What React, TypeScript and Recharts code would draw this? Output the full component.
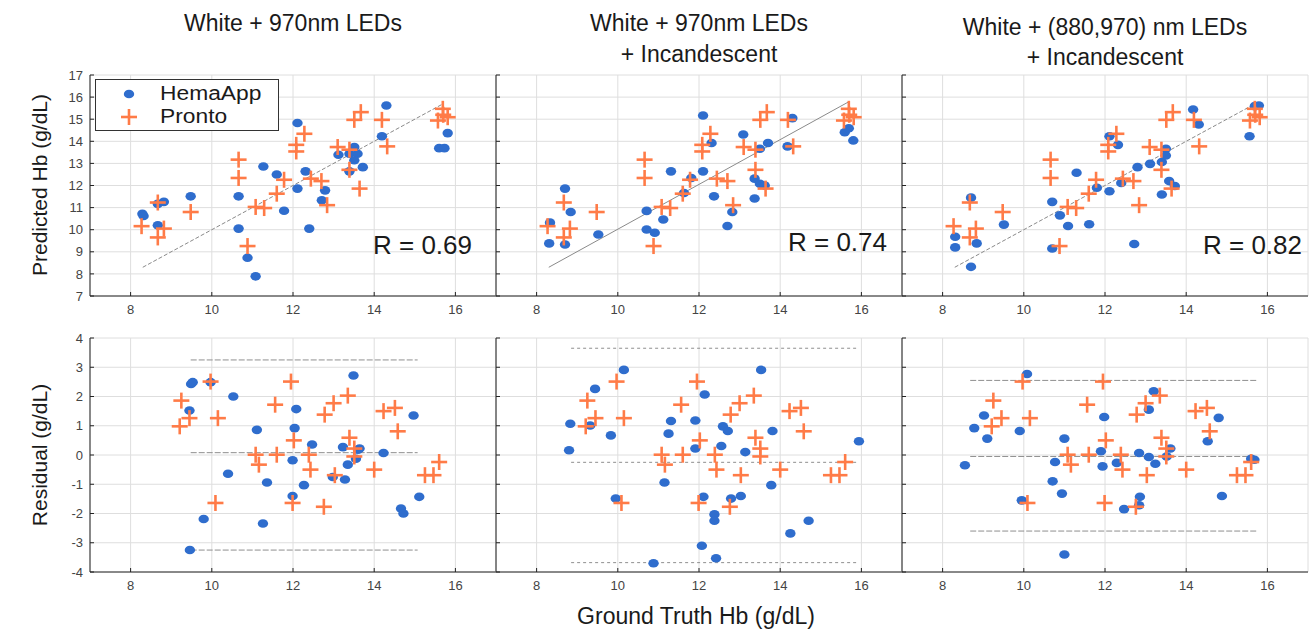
import React from 'react';
import { ScatterChart, Scatter, XAxis, YAxis, CartesianGrid, ReferenceLine } from 'recharts';

const FONT = '"Liberation Sans", Arial, Helvetica, sans-serif';
const BLUE = '#2f6dcd';
const ORANGE = '#ff7b47';

type P = { x: number; y: number };
const pts = (a: number[][]): P[] => a.map(([x, y]) => ({ x, y }));

// ---------- Titles / labels ----------
const panelTitles: string[][] = [
  ['White + 970nm LEDs'],
  ['White + 970nm LEDs', '+ Incandescent'],
  ['White + (880,970) nm LEDs', '+ Incandescent'],
];
const rValues = ['R = 0.69', 'R = 0.74', 'R = 0.82'];
const seriesNames = ['HemaApp', 'Pronto'];
const xTicks = [8, 10, 12, 14, 16];
const xDomain: [number, number] = [7, 17];
const topYTicks = [7, 8, 9, 10, 11, 12, 13, 14, 15, 16, 17];
const topYDomain: [number, number] = [7, 17];
const botYTicks = [-4, -3, -2, -1, 0, 1, 2, 3, 4];
const botYDomain: [number, number] = [-4, 4];

// ---------- Top row: predicted vs ground truth ----------
const prontoTop = pts([
  [8.27, 10.16], [8.67, 11.23], [8.67, 9.65], [8.82, 10.05], [9.48, 10.8], [10.66, 13.17], [10.66, 12.34],
  [10.88, 9.26], [11.08, 11.03], [11.29, 10.98], [11.6, 11.63], [11.78, 12.26], [12.08, 13.84], [12.08, 13.54],
  [12.28, 14.34], [12.44, 12.31], [12.7, 12.2], [12.84, 11.11], [13.1, 13.74], [13.39, 13.62], [13.39, 12.71],
  [13.51, 14.97], [13.67, 15.32], [13.64, 11.86], [14.19, 14.97], [14.32, 13.77], [15.57, 14.94], [15.69, 15.47],
  [15.81, 15.09], [15.7, 15.2],
]);

const hemaTop1 = pts([
  [8.29, 10.72], [8.32, 10.62], [8.67, 11.17], [8.82, 11.26], [8.67, 10.2], [9.48, 11.51], [10.66, 11.51],
  [10.66, 10.05], [10.88, 8.73], [11.08, 7.89], [11.27, 12.86], [11.6, 12.5], [11.78, 10.86], [12.11, 14.83],
  [12.11, 11.86], [12.31, 12.64], [12.4, 10.05], [12.79, 11.78], [12.71, 11.33], [13.12, 13.39], [13.39, 13.44],
  [13.51, 13.74], [13.59, 13.44], [13.51, 13.14], [13.39, 12.64], [13.72, 12.83], [14.19, 14.23], [14.3, 15.62],
  [15.6, 13.69], [15.73, 13.69], [15.81, 14.37],
]);

const hemaTop2 = pts([
  [8.33, 10.32], [8.31, 9.38], [8.7, 11.86], [8.84, 10.8], [8.7, 9.33], [9.52, 9.78], [10.71, 10.85],
  [10.71, 10.01], [10.91, 9.86], [11.12, 10.46], [11.31, 12.64], [11.63, 11.66], [11.81, 12.34], [12.1, 15.17],
  [12.1, 12.64], [12.31, 13.92], [12.37, 11.51], [12.7, 10.17], [12.82, 10.8], [13.09, 14.31], [13.37, 12.31],
  [13.5, 12.08], [13.62, 12.0], [13.37, 11.41], [13.5, 13.66], [13.7, 13.92], [14.18, 13.77], [14.3, 15.05],
  [15.59, 14.41], [15.69, 14.59], [15.8, 14.04],
]);

const hemaTop3 = pts([
  [8.31, 9.68], [8.31, 9.2], [8.7, 11.45], [8.84, 9.38], [8.7, 8.32], [9.51, 10.23], [10.7, 11.26],
  [10.7, 9.15], [10.89, 10.65], [11.09, 10.17], [11.3, 12.58], [11.61, 10.25], [11.8, 11.9], [12.11, 14.23],
  [12.11, 11.74], [12.32, 13.84], [12.4, 12.11], [12.72, 9.35], [12.8, 12.83], [13.11, 12.98], [13.4, 13.06],
  [13.5, 13.36], [13.5, 13.66], [13.4, 11.59], [13.58, 12.2], [13.72, 11.98], [14.17, 15.44], [14.31, 14.76],
  [15.56, 14.23], [15.69, 15.59], [15.79, 15.62],
]);

// identity / fit line end points per panel
const fitLines: P[][] = [
  pts([[8.3, 8.3], [15.7, 15.7]]),
  pts([[8.3, 8.3], [15.7, 15.8]]),
  pts([[8.3, 8.3], [15.7, 15.7]]),
];

// ---------- Bottom row: residuals ----------
const prontoBot = pts([
  [9.97, 2.51], [9.25, 1.86], [9.45, 1.26], [9.21, 0.98], [10.15, 1.26], [10.09, -1.64], [11.95, 2.51],
  [11.56, 1.72], [11.08, 0.01], [11.16, -0.33], [11.6, 0.01], [12.02, 0.5], [11.99, -1.64], [12.39, 0.01],
  [12.43, -0.5], [12.76, -1.77], [12.78, 1.38], [13.0, 1.77], [13.35, 2.03], [13.03, -0.69], [13.39, 0.59],
  [13.51, 0.22], [13.51, -0.05], [14.0, -0.5], [14.23, 1.5], [14.51, 1.61], [14.58, 0.81], [15.25, -0.69],
  [15.46, -0.69], [15.6, -0.24],
]);

const hemaBot1 = pts([
  [9.49, 2.43], [9.53, 2.49], [9.97, 2.49], [10.53, 2.0], [9.45, 1.52], [11.11, 0.86], [12.08, 1.57],
  [12.04, 0.92], [12.47, 0.36], [11.99, -0.18], [13.23, 0.27], [13.64, 0.22], [13.55, -0.13], [13.35, -0.33],
  [12.98, -0.75], [13.28, -0.84], [14.23, 0.07], [13.49, 2.72], [14.97, 1.35], [10.4, -0.64], [11.36, -0.94],
  [12.27, -1.03], [11.99, -1.4], [15.11, -1.43], [14.66, -1.83], [14.72, -2.0], [9.8, -2.19], [11.26, -2.34],
  [9.46, -3.25], [13.6, 0.18],
]);

const hemaBot2 = pts([
  [10.15, 2.91], [9.44, 2.26], [8.83, 1.07], [9.32, 1.01], [8.8, 0.16], [9.83, 0.67], [11.31, 1.16],
  [11.25, 0.73], [11.91, 1.18], [12.14, 2.07], [11.91, 0.22], [12.59, 0.98], [12.71, 0.82], [12.55, 0.31],
  [13.14, 0.1], [13.53, 2.91], [13.81, 0.82], [15.94, 0.47], [11.15, -0.94], [9.95, -1.49], [12.11, -1.43],
  [12.79, -1.49], [13.03, -1.4], [13.78, -1.03], [12.38, -2.03], [12.38, -2.25], [12.07, -3.1], [12.42, -3.53],
  [10.88, -3.7], [14.25, -2.68], [14.7, -2.25],
]);

const hemaBot3 = pts([
  [10.08, 2.77], [9.02, 1.35], [8.78, 0.92], [9.1, 0.56], [9.9, 0.82], [8.55, -0.35], [11.0, 0.56],
  [10.77, -0.24], [10.71, -0.9], [10.94, -1.32], [9.95, -1.55], [11.9, 0.13], [11.98, 1.3], [11.94, -0.39],
  [12.29, -0.27], [12.84, 0.07], [13.08, -0.07], [13.24, -0.3], [13.2, 2.18], [13.08, 1.55], [13.61, 0.22],
  [13.52, -0.05], [14.53, 0.47], [14.8, 1.27], [14.88, -1.4], [12.47, -1.85], [12.86, -1.43], [12.84, -1.72],
  [11.0, -3.4], [15.6, -0.13], [15.68, -0.16],
]);

// Bland-Altman lines: [upper, mean, lower], x range
const baLevels: number[][] = [
  [3.25, 0.08, -3.25],
  [3.65, -0.25, -3.68],
  [2.55, -0.05, -2.6],
];
const baXRange: number[][] = [
  [9.48, 15.07],
  [8.85, 15.94],
  [8.68, 15.73],
];

// ---------- Layout ----------
const COLS = [90, 496, 902];
const PW = 406;
const ROWS = [
  { top: 75, h: 221 },
  { top: 338, h: 234 },
];
const YW = 40;
const XH = 32;
const MT = 10;

const Dot = (props: any) => {
  const { cx, cy } = props;
  if (cx == null || cy == null) return <g />;
  return <ellipse cx={cx} cy={cy} rx={5.2} ry={4.3} fill={BLUE} />;
};

const Plus = (props: any) => {
  const { cx, cy } = props;
  if (cx == null || cy == null) return <g />;
  const s = 8;
  return (
    <g stroke={ORANGE} strokeWidth={2.6}>
      <line x1={cx - s} y1={cy} x2={cx + s} y2={cy} />
      <line x1={cx} y1={cy - s} x2={cx} y2={cy + s} />
    </g>
  );
};

const NoTick = () => <g />;

const topDash = ['4 2', '', '4 2'];
const botDash = ['6 2', '3 3', '6 2'];

function Panel(props: { col: number; row: number; hema: P[]; pronto: P[] }) {
  const { col, row, hema, pronto } = props;
  const r = ROWS[row];
  const isTop = row === 0;
  const w = YW + PW + 2;
  const h = r.h + XH + MT;
  return (
    <div style={{ position: 'absolute', left: COLS[col] - YW, top: r.top - MT, width: w, height: h }}>
      <ScatterChart width={w} height={h} margin={{ top: MT, right: 2, left: 0, bottom: 0 }}>
        <CartesianGrid stroke="#dedede" strokeWidth={1} />
        <XAxis
          dataKey="x"
          type="number"
          domain={xDomain}
          ticks={xTicks}
          height={XH}
          tickSize={-4}
          tickMargin={13}
          axisLine={{ stroke: '#222' }}
          tickLine={{ stroke: '#222' }}
          tick={{ fill: '#444', fontSize: 13, fontFamily: FONT }}
          allowDataOverflow
        />
        <YAxis
          dataKey="y"
          type="number"
          domain={isTop ? topYDomain : botYDomain}
          ticks={isTop ? topYTicks : botYTicks}
          width={YW}
          tickSize={-4}
          tickMargin={11}
          interval={0}
          axisLine={{ stroke: '#222' }}
          tickLine={{ stroke: '#222' }}
          tick={col === 0 ? { fill: '#444', fontSize: 13, fontFamily: FONT } : NoTick}
          allowDataOverflow
        />
        {isTop ? (
          <ReferenceLine
            segment={fitLines[col]}
            stroke="#8a8a8a"
            strokeWidth={1}
            strokeDasharray={topDash[col] || undefined}
          />
        ) : (
          baLevels[col].map((v, i) => (
            <ReferenceLine
              key={i}
              segment={[
                { x: baXRange[col][0], y: v },
                { x: baXRange[col][1], y: v },
              ]}
              stroke="#8f8f8f"
              strokeWidth={1}
              strokeDasharray={botDash[col]}
            />
          ))
        )}
        <Scatter name={seriesNames[0]} data={hema} shape={<Dot />} isAnimationActive={false} />
        <Scatter name={seriesNames[1]} data={pronto} shape={<Plus />} isAnimationActive={false} />
      </ScatterChart>
    </div>
  );
}

const titleTops = [[23], [23, 54], [27, 57]];
const rPos = [
  { right: 472, y: 245 },
  { right: 887, y: 242 },
  { right: 1302, y: 245 },
];

export default function App() {
  const hemaTop = [hemaTop1, hemaTop2, hemaTop3];
  const hemaBot = [hemaBot1, hemaBot2, hemaBot3];
  const legendText: React.CSSProperties = {
    position: 'absolute',
    left: 64,
    fontSize: 20,
    lineHeight: '20px',
    whiteSpace: 'nowrap',
    transform: 'scaleX(1.14)',
    transformOrigin: 'left center',
  };
  return (
    <div
      style={{
        position: 'absolute',
        left: 0,
        top: 0,
        width: 1309,
        height: 630,
        background: '#fff',
        overflow: 'hidden',
        fontFamily: FONT,
        color: '#1a1a1a',
      }}
    >
      {[0, 1, 2].map((c) => (
        <React.Fragment key={c}>
          <Panel col={c} row={0} hema={hemaTop[c]} pronto={prontoTop} />
          <Panel col={c} row={1} hema={hemaBot[c]} pronto={prontoBot} />
        </React.Fragment>
      ))}

      {/* Titles */}
      {panelTitles.map((lines, c) =>
        lines.map((t, i) => (
          <div
            key={`${c}-${i}`}
            style={{
              position: 'absolute',
              left: COLS[c] - 20,
              width: PW + 40,
              top: titleTops[c][i] - 13,
              height: 26,
              lineHeight: '26px',
              textAlign: 'center',
              fontSize: 23,
              whiteSpace: 'nowrap',
            }}
          >
            {t}
          </div>
        ))
      )}

      {/* R values */}
      {rValues.map((t, c) => (
        <div
          key={c}
          style={{
            position: 'absolute',
            left: rPos[c].right - 120,
            width: 120,
            top: rPos[c].y - 15,
            height: 30,
            lineHeight: '30px',
            textAlign: 'right',
            fontSize: 26,
            whiteSpace: 'nowrap',
          }}
        >
          {t}
        </div>
      ))}

      {/* Legend */}
      <div
        style={{
          position: 'absolute',
          left: 95,
          top: 79,
          width: 182,
          height: 50,
          border: '1.5px solid #333',
          background: '#fff',
        }}
      >
        <svg width={60} height={50} style={{ position: 'absolute', left: 0, top: 0 }}>
          <ellipse cx={33} cy={14} rx={5.2} ry={4.3} fill={BLUE} />
          <g stroke={ORANGE} strokeWidth={2.6}>
            <line x1={25} y1={37} x2={41} y2={37} />
            <line x1={33} y1={29} x2={33} y2={45} />
          </g>
        </svg>
        <div style={{ ...legendText, top: 3 }}>{seriesNames[0]}</div>
        <div style={{ ...legendText, top: 26 }}>{seriesNames[1]}</div>
      </div>

      {/* Axis labels */}
      <div
        style={{
          position: 'absolute',
          left: 40 - 150,
          top: 185 - 14,
          width: 300,
          height: 28,
          lineHeight: '28px',
          textAlign: 'center',
          fontSize: 21,
          transform: 'rotate(-90deg)',
          whiteSpace: 'nowrap',
        }}
      >
        Predicted Hb (g/dL)
      </div>
      <div
        style={{
          position: 'absolute',
          left: 40 - 150,
          top: 455 - 14,
          width: 300,
          height: 28,
          lineHeight: '28px',
          textAlign: 'center',
          fontSize: 21,
          transform: 'rotate(-90deg)',
          whiteSpace: 'nowrap',
        }}
      >
        Residual (g/dL)
      </div>
      <div
        style={{
          position: 'absolute',
          left: 696 - 200,
          top: 616 - 14,
          width: 400,
          height: 28,
          lineHeight: '28px',
          textAlign: 'center',
          fontSize: 23,
          whiteSpace: 'nowrap',
        }}
      >
        Ground Truth Hb (g/dL)
      </div>
    </div>
  );
}
